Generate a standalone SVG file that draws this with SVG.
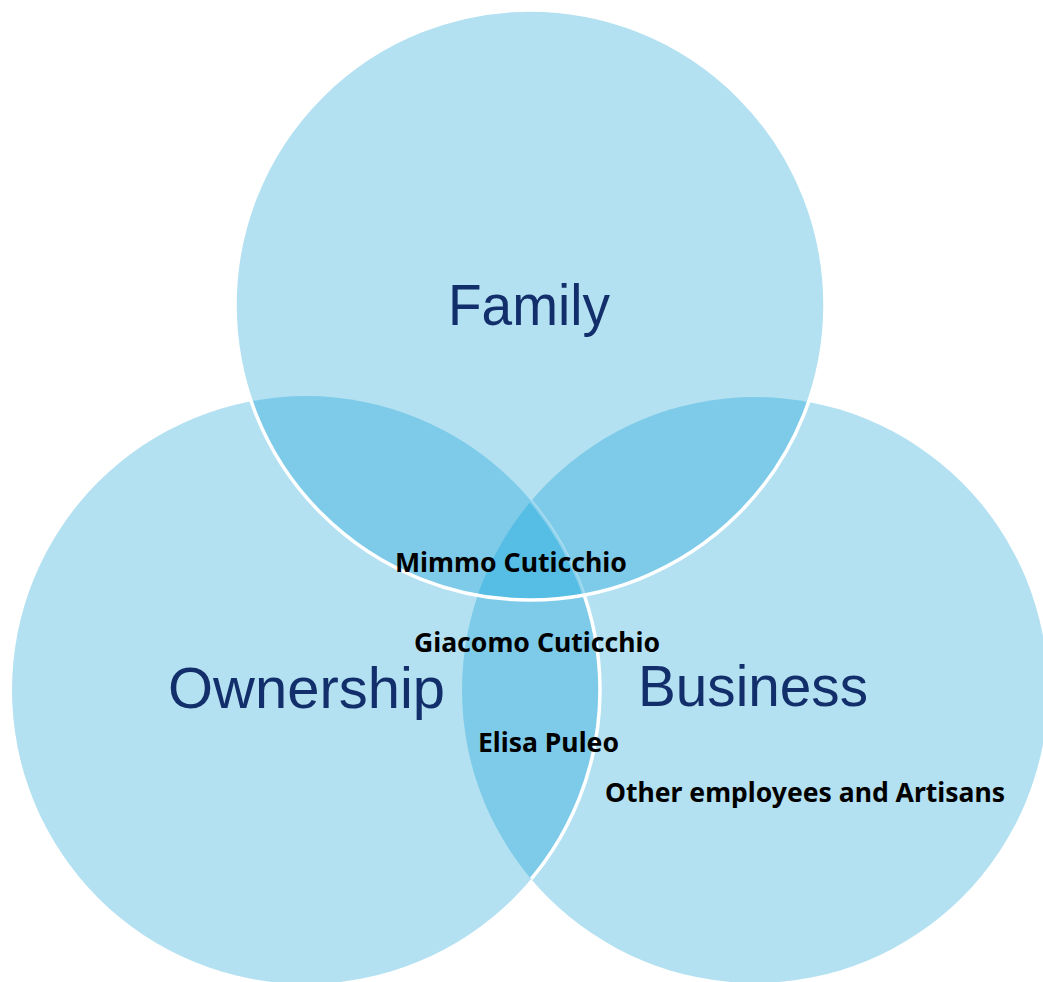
<svg xmlns="http://www.w3.org/2000/svg" width="1043" height="982" viewBox="0 0 1043 982">
  <style>
    .set { fill: #b3e1f1; }
    .pair { fill: #7ecbe9; }
    .core { fill: #56bde5; }
    .rim { fill: none; stroke: #ffffff; stroke-width: 3.5; }
    .title { font-family: "Liberation Sans", Arial, sans-serif; font-size: 57px; fill: #132f6b; }
    .who { font-family: "Noto Sans", "Liberation Sans", sans-serif; font-size: 27px; font-weight: bold; fill: #000000; }
  </style>
  <defs>
    <clipPath id="clipFamily"><circle cx="530" cy="305" r="295"/></clipPath>
    <clipPath id="clipOwnership"><circle cx="306" cy="690" r="294"/></clipPath>
    <clipPath id="clipBusiness"><circle cx="755" cy="690" r="293"/></clipPath>
    <mask id="bizOutsideFamily">
      <circle cx="755" cy="690" r="293" fill="#fff"/>
      <circle cx="530" cy="305" r="295" fill="#000"/>
    </mask>
    <mask id="bizInsideFamily">
      <circle cx="530" cy="305" r="295" fill="#fff"/>
    </mask>
  </defs>
  <rect width="1043" height="982" fill="#ffffff"/>

  <!-- base sets -->
  <g id="ownership">
    <circle class="set" cx="306" cy="690" r="294"/>
  </g>
  <g id="business">
    <circle class="set" cx="755" cy="690" r="293"/>
  </g>
  <g id="family">
    <circle class="set" cx="530" cy="305" r="295"/>
  </g>

  <!-- pairwise overlaps and the shared core -->
  <g id="overlaps">
    <circle class="pair" cx="306" cy="690" r="294" clip-path="url(#clipFamily)"/>
    <circle class="pair" cx="755" cy="690" r="293" clip-path="url(#clipFamily)"/>
    <circle class="pair" cx="755" cy="690" r="293" clip-path="url(#clipOwnership)"/>
    <g clip-path="url(#clipFamily)">
      <circle class="core" cx="755" cy="690" r="293" clip-path="url(#clipOwnership)"/>
    </g>
  </g>

  <!-- white rims -->
  <g id="connectors">
    <g clip-path="url(#clipBusiness)">
      <circle class="rim" cx="306" cy="690" r="294" mask="url(#bizOutsideFamily)"/>
      <circle class="rim" cx="306" cy="690" r="294" opacity="0.3" mask="url(#bizInsideFamily)"/>
    </g>
    <circle class="rim" cx="530" cy="305" r="295"/>
  </g>

  <!-- set titles -->
  <g id="labels">
    <text class="title" x="448" y="325" textLength="162" lengthAdjust="spacingAndGlyphs">Family</text>
    <text class="title" x="168" y="708" textLength="277" lengthAdjust="spacingAndGlyphs">Ownership</text>
    <text class="title" x="638" y="706" textLength="230" lengthAdjust="spacingAndGlyphs">Business</text>
  </g>

  <!-- people -->
  <g id="people">
    <text class="who" x="395" y="572" textLength="232" lengthAdjust="spacingAndGlyphs">Mimmo Cuticchio</text>
    <text class="who" x="414" y="652" textLength="246" lengthAdjust="spacingAndGlyphs">Giacomo Cuticchio</text>
    <text class="who" x="478" y="752" textLength="141" lengthAdjust="spacingAndGlyphs">Elisa Puleo</text>
    <text class="who" x="605" y="802" textLength="400" lengthAdjust="spacingAndGlyphs">Other employees and Artisans</text>
  </g>
</svg>
